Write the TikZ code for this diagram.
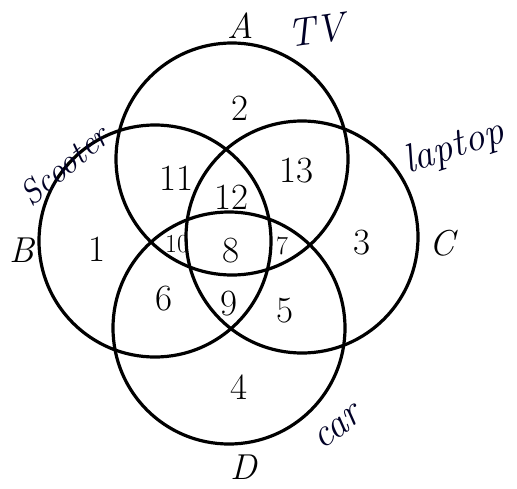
\documentclass[tikz,border=0pt]{standalone}
\usepackage{fontspec}
\begin{document}
\begin{tikzpicture}[x=1pt,y=-1pt,
  ring/.style={draw=black,line width=3.2pt},
  num/.style={font=\fontsize{37}{40}\selectfont,inner sep=0pt},
  smallnum/.style={font=\fontsize{26}{28}\selectfont,inner sep=0pt},
  setlabel/.style={font=\fontsize{36}{40}\selectfont\itshape,inner sep=0pt},
  hand/.style={font=\fontsize{40}{42}\selectfont\itshape,text=black!85!blue,inner sep=0pt}]
\useasboundingbox (0,0) rectangle (517,488);
\fill[white] (0,0) rectangle (517,488);
% circles
\node[ring,circle,minimum size=232pt,inner sep=0pt] (cA) at (232,159) {};
\node[ring,circle,minimum size=232pt,inner sep=0pt] (cB) at (155,241) {};
\node[ring,circle,minimum size=232pt,inner sep=0pt] (cC) at (302,237) {};
\node[ring,circle,minimum size=232pt,inner sep=0pt] (cD) at (229,328) {};
% set labels
\node[setlabel] (lA) at (241,26) {A};
\node[setlabel] (lB) at (22,250) {B};
\node[setlabel] (lC) at (442,243) {C};
\node[setlabel] (lD) at (244,467) {D};
% region numbers
\node[num] (n2) at (240,108) {2};
\node[num] (n11) at (176,178) {11};
\node[num] (n12) at (231,197) {12};
\node[num] (n13) at (296,171) {13};
\node[num] (n1) at (97,249) {1};
\node[smallnum] (n10) at (177,244) {10};
\node[num] (n8) at (231,251) {8};
\node[smallnum] (n7) at (282,246) {7};
\node[num] (n3) at (362,243) {3};
\node[num] (n6) at (164,299) {6};
\node[num] (n9) at (229,304) {9};
\node[num] (n5) at (285,311) {5};
\node[num] (n4) at (239,387) {4};
% handwritten labels
\node[hand,rotate=8] (tv) at (316,30) {TV};
\node[hand,rotate=40,font=\fontsize{34}{36}\selectfont\itshape] (scooter) at (64,165) {Scooter};
\node[hand,rotate=18] (laptop) at (454,148) {laptop};
\node[hand,rotate=38] (car) at (338,428) {car};
\end{tikzpicture}
\end{document}
